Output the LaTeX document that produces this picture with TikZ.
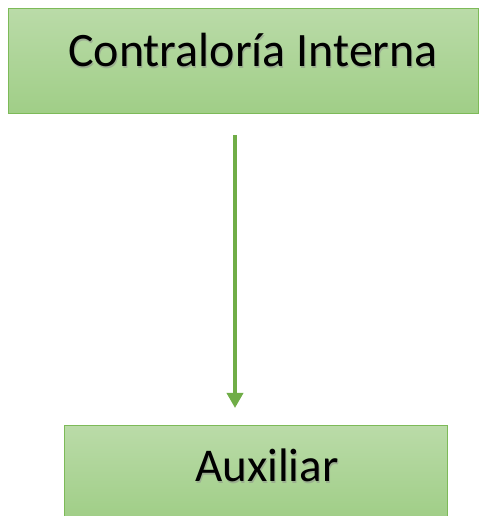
\documentclass[tikz,border=0pt]{standalone}
\usepackage{fontspec}
\setmainfont{Carlito}
\usetikzlibrary{arrows.meta}
\definecolor{gtop}{RGB}{186,219,168}
\definecolor{gbot}{RGB}{160,206,135}
\definecolor{gedge}{RGB}{125,186,88}
\definecolor{garrow}{RGB}{112,173,71}
\tikzset{
  box/.style={draw=gedge, line width=1pt, top color=gtop, bottom color=gbot, inner sep=0pt, anchor=north west},
  lbl/.style={anchor=base west, inner sep=0pt, font=\fontsize{47}{56}\selectfont},
  biglbl/.style={lbl, font=\fontsize{48}{57}\selectfont},
  shd/.style={text=black!45, opacity=0.5},
  conn/.style={draw=garrow, line width=3.5pt, -{Triangle[width=16pt,length=15pt]}}
}
\begin{document}
\begin{tikzpicture}[x=1pt,y=1pt]
\useasboundingbox (0,0) rectangle (484,516);
\node[box, minimum width=470pt, minimum height=105pt] (ci) at (8,508) {};
\node[box, minimum width=383pt, minimum height=93pt] (aux) at (64,91) {};
\node[biglbl, shd] (cis) at (69,447.8) {Contraloría Interna};
\node[biglbl] (cit) at (68,449) {Contraloría Interna};
\node[lbl, shd] (auxs) at (196,32.8) {Auxiliar};
\node[lbl] (auxt) at (195,34) {Auxiliar};
\coordinate (a1) at ([xshift=-8.5pt, yshift=-21pt]ci.south);
\coordinate (a2) at ([xshift=-21pt, yshift=17pt]aux.north);
\draw[conn] (a1) -- (a2);
\end{tikzpicture}
\end{document}
